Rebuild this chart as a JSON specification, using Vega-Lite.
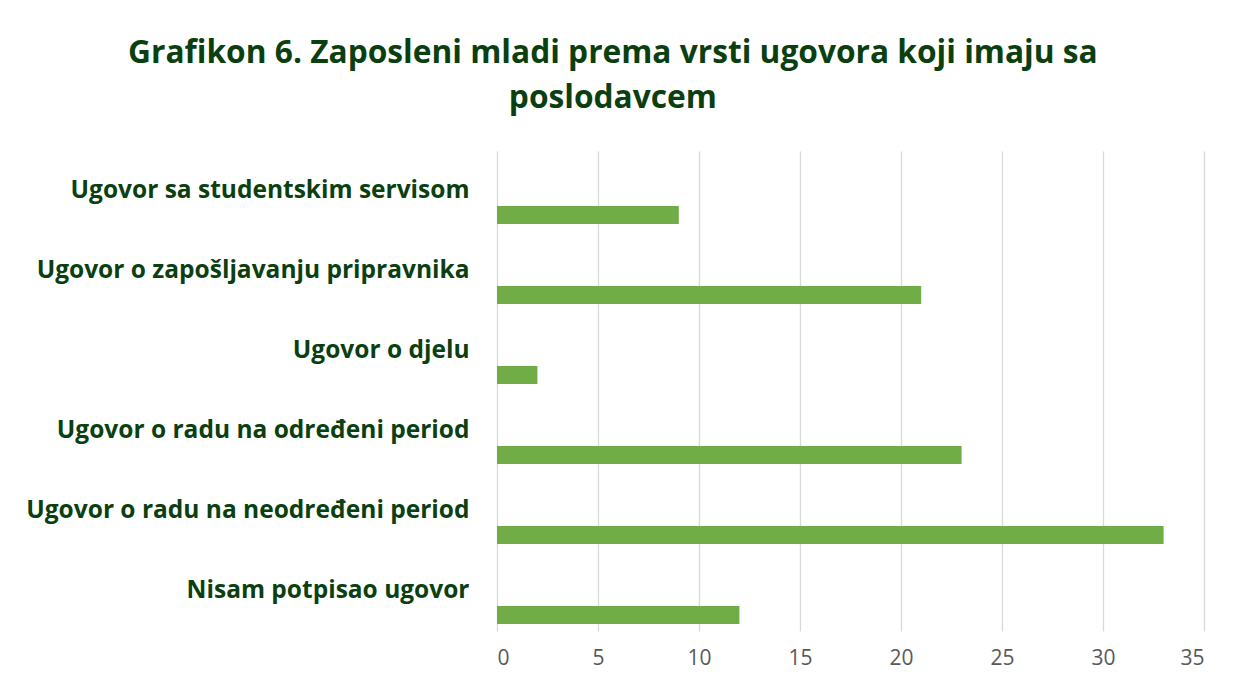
{
  "$schema": "https://vega.github.io/schema/vega-lite/v6.json",
  "width": 707,
  "height": 480,
  "autosize": "none",
  "padding": {"left": 497, "top": 151, "right": 40, "bottom": 56},
  "background": "white",
  "title": {
    "text": ["Grafikon 6. Zaposleni mladi prema vrsti ugovora koji imaju sa", "poslodavcem"],
    "font": "Open Sans",
    "fontSize": 31.7,
    "fontWeight": "bold",
    "color": "#0B3F0F",
    "anchor": "middle",
    "frame": "bounds",
    "lineHeight": 45,
    "offset": 36,
    "dx": -2
  },
  "data": {
    "values": [
      {"ugovor": "Ugovor sa studentskim servisom", "broj": 9, "serija": "Broj"},
      {"ugovor": "Ugovor o zapošljavanju pripravnika", "broj": 21, "serija": "Broj"},
      {"ugovor": "Ugovor o djelu", "broj": 2, "serija": "Broj"},
      {"ugovor": "Ugovor o radu na određeni period", "broj": 23, "serija": "Broj"},
      {"ugovor": "Ugovor o radu na neodređeni period", "broj": 33, "serija": "Broj"},
      {"ugovor": "Nisam potpisao ugovor", "broj": 12, "serija": "Broj"}
    ]
  },
  "mark": {"type": "bar", "color": "#70AD47"},
  "encoding": {
    "y": {
      "field": "ugovor",
      "type": "nominal",
      "sort": null,
      "scale": {"paddingInner": 0, "paddingOuter": 0},
      "axis": {
        "title": null,
        "domain": false,
        "ticks": false,
        "grid": false,
        "labelPadding": 28,
        "labelFont": "Open Sans",
        "labelFontSize": 24.5,
        "labelFontWeight": "bold",
        "labelColor": "#0B3F0F",
        "labelLimit": 600
      }
    },
    "yOffset": {
      "field": "serija",
      "type": "nominal",
      "scale": {"domain": ["_", "__", "Broj"], "paddingInner": 0.25, "paddingOuter": 0.2917}
    },
    "x": {
      "field": "broj",
      "type": "quantitative",
      "scale": {"domain": [0, 35], "nice": false},
      "axis": {
        "title": null,
        "values": [0, 5, 10, 15, 20, 25, 30, 35],
        "domain": false,
        "ticks": false,
        "grid": true,
        "gridColor": "#D9D9D9",
        "gridWidth": 1.3,
        "labelPadding": 16,
        "labelFont": "Open Sans",
        "labelFontSize": 21,
        "labelColor": "#595959"
      }
    }
  },
  "config": {"view": {"stroke": null}}
}
